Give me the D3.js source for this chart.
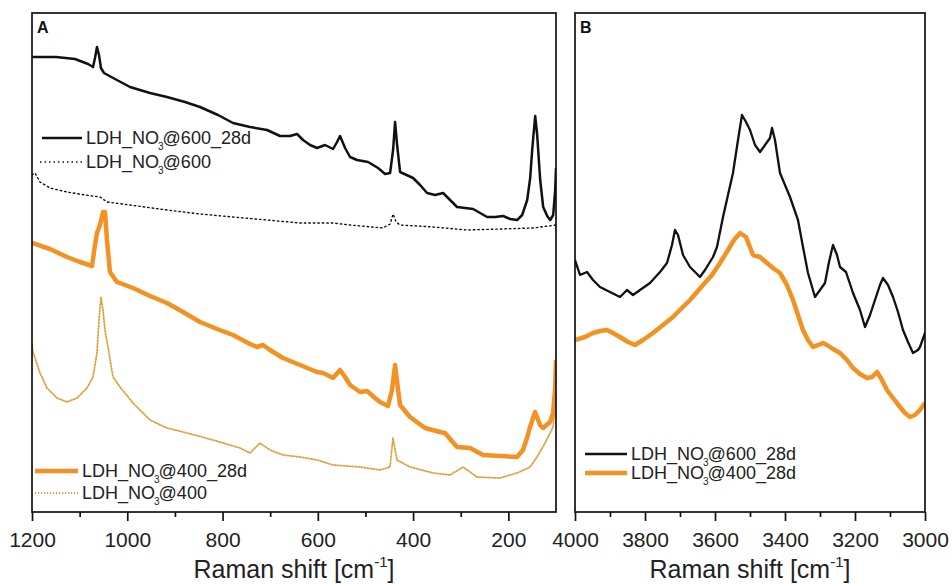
<!DOCTYPE html>
<html><head><meta charset="utf-8">
<script src="https://cdn.jsdelivr.net/npm/d3@7"></script>
<style>
html,body{margin:0;padding:0;background:#fff;}
svg{display:block;font-family:"Liberation Sans",Arial,sans-serif;}
</style></head>
<body><svg id="c" width="952" height="584"></svg>
<script>
// ---------- DATA (Raman shift in cm-1, intensity in arbitrary units) ----------
const ticksA = [1200, 1000, 800, 600, 400, 200];
const minorTicksA = [1100, 900, 700, 500, 300];
const ticksB = [4000, 3800, 3600, 3400, 3200, 3000];
const minorTicksB = [3900, 3700, 3500, 3300, 3100];

const seriesNames = ["LDH_NO3@600_28d", "LDH_NO3@600", "LDH_NO3@400_28d", "LDH_NO3@400"];

// Panel A: LDH_NO3@600_28d
const a600d_x = [1200,1172.7,1149.6,1109.7,1082.4,1071.9,1067.8,1063.6,1059.4,1055.2,1048.9,1025.8,994.3,952.3,916.6,878.8,847.3,809.5,778.0,742.3,706.6,679.3,658.3,643.6,631.0,616.3,601.6,584.8,568.0,559.6,553.3,542.8,532.3,517.6,494.5,473.5,458.8,448.3,442.0,437.8,433.6,427.3,400.0,385.3,370.6,353.8,337.0,322.3,307.6,290.8,274.0,259.3,244.6,227.8,211.0,196.3,181.5,171.0,160.5,154.2,150.0,143.7,139.5,137.4,133.2,126.9,118.5,112.2,105.9,101.7,100];
const a600d_y = [910,910,910,906,896,890,908,930,914,888,878,866,850,838,830,820,810,794,778,770,764,752,752,756,744,734,728,734,726,740,752,728,710,704,700,688,676,678,724,780,734,680,668,654,638,634,638,624,610,608,606,598,590,590,592,586,584,594,624,668,724,792,754,724,664,610,592,584,594,644,688];

// Panel A: LDH_NO3@600
const a600_x = [1200,1193.7,1183.2,1162.2,1126.5,1088.7,1057.3,1042.6,994.3,916.6,847.3,778.0,706.6,637.4,568.0,532.3,463.3,448.3,442.0,435.7,427.3,358.0,286.6,217.4,148.1,100];
const a600_y = [674,678,660,648,640,634,630,620,614,604,596,590,584,578,578,574,568,576,596,580,574,570,564,566,568,574];

// Panel A: LDH_NO3@400_28d
const a400d_x = [1200,1162.2,1126.5,1099.2,1074.0,1067.8,1063.6,1057.3,1050.9,1046.8,1042.6,1036.3,1021.6,988.0,952.3,916.6,883.0,847.3,811.6,778.0,742.4,727.7,715.1,700.4,673.1,637.4,601.7,589.1,568.0,553.3,542.8,532.3,511.4,496.7,479.9,469.5,452.7,444.3,437.8,431.5,427.3,406.5,375.0,343.5,333.0,307.8,280.5,253.2,217.6,181.8,169.3,160.8,154.5,144.0,133.4,127.2,112.5,106.2,102.0,100];
const a400d_y = [538,526,510,500,492,534,558,574,600,600,544,480,460,448,432,418,400,380,366,354,336,330,334,324,308,294,280,278,268,284,270,254,240,242,228,220,212,244,294,244,214,190,168,160,158,130,128,114,112,110,124,148,170,200,174,168,180,198,244,304];

// Panel A: LDH_NO3@400
const a400_x = [1200,1197.9,1183.2,1168.5,1147.5,1126.5,1105.5,1084.5,1072.0,1063.6,1059.4,1055.2,1051.0,1046.8,1040.5,1030.0,1015.3,988.0,952.3,916.6,874.6,820.0,763.4,742.4,721.4,700.4,673.1,637.4,601.7,568.0,511.4,469.5,448.5,442.2,433.8,406.5,358.2,322.5,295.2,265.8,217.6,181.8,154.5,139.8,123.0,106.2,100];
const a400_y = [334,320,278,248,228,220,228,248,270,318,384,430,404,364,330,270,250,218,184,168,158,144,128,118,138,124,114,110,104,94,90,84,90,148,104,90,78,74,90,70,68,78,90,110,138,170,224];

// Panel B: LDH_NO3@600_28d
const b600d_x = [4000,3985.7,3965.7,3948.6,3928.6,3900,3871.4,3851.4,3834.3,3814.3,3785.7,3757.1,3737.1,3722.9,3714.3,3705.7,3691.4,3671.4,3657.1,3642.9,3628.6,3605.7,3594.3,3577.1,3562.9,3548.6,3534.3,3522.9,3511.4,3500,3485.7,3471.4,3457.1,3442.9,3437.1,3428.6,3414.3,3400,3385.7,3362.9,3348.6,3334.3,3314.3,3300,3285.7,3274.3,3262.9,3251.4,3242.9,3225.7,3205.7,3185.7,3171.4,3157.1,3142.9,3128.6,3120,3105.7,3091.4,3077.1,3062.9,3048.6,3034.3,3020,3014.3,3000];
const b600d_y = [504,474,480,464,450,440,430,444,434,444,458,480,498,534,564,554,514,490,480,470,484,510,530,590,634,678,744,794,780,764,734,720,734,748,768,744,678,654,630,584,530,478,430,444,458,500,534,514,490,480,438,404,370,394,424,454,468,454,430,400,364,340,318,324,330,358];

// Panel B: LDH_NO3@400_28d
const b400d_x = [4000,3971.4,3948.6,3928.6,3908.6,3891.4,3871.4,3848.6,3828.6,3805.7,3777.1,3748.6,3720,3694.3,3671.4,3651.4,3634.3,3608.6,3585.7,3562.9,3545.7,3528.6,3511.4,3491.4,3471.4,3451.4,3434.3,3414.3,3394.3,3377.1,3362.9,3348.6,3334.3,3320,3305.7,3291.4,3280,3262.9,3242.9,3222.9,3205.7,3185.7,3165.7,3151.4,3137.1,3122.9,3108.6,3091.4,3071.4,3057.1,3042.9,3028.6,3014.3,3000];
const b400d_y = [344,350,358,362,364,358,350,340,334,344,358,374,390,408,424,440,454,474,498,524,544,558,550,514,510,498,488,478,454,424,394,364,344,330,334,338,334,326,318,304,288,276,268,270,280,264,244,228,210,198,190,194,204,218];

// ---------- DRAWING ----------
const svg = d3.select("#c");
const yTop = 13, yBottom = 512;
const y = d3.scaleLinear().domain([0, 998]).range([yBottom, yTop]);
const xA = d3.scaleLinear().domain([1200, 100]).range([32, 556]);
const xB = d3.scaleLinear().domain([4000, 3000]).range([575, 925]);

const BLACK = "#111";
const ORANGE = "#F39122";
const GOLD = "#DDA23E";
const FONT = "'Liberation Sans', Arial, sans-serif";

function zip(xs, ys) { return xs.map((v, i) => [v, ys[i]]); }

function panel(x, ticks, minor, label, series) {
  const [x0, x1] = x.range();
  const g = svg.append("g");
  const clipId = "clip" + label;
  svg.append("clipPath").attr("id", clipId).append("rect")
    .attr("x", x0).attr("y", yTop).attr("width", x1 - x0).attr("height", yBottom - yTop);
  const lg = g.append("g").attr("clip-path", `url(#${clipId})`);
  const line = d3.line().x(d => x(d[0])).y(d => y(d[1]));
  series.forEach(s => {
    lg.append("path").datum(s.data).attr("d", line)
      .attr("fill", "none").attr("stroke", s.color).attr("stroke-width", s.width)
      .attr("stroke-linejoin", "round").attr("stroke-linecap", s.dash ? "round" : "butt")
      .attr("stroke-dasharray", s.dash || null);
  });
  g.append("rect").attr("x", x0).attr("y", yTop).attr("width", x1 - x0).attr("height", yBottom - yTop)
    .attr("fill", "none").attr("stroke", BLACK).attr("stroke-width", 1.7);
  const ax = g.append("g").attr("transform", `translate(0,${yBottom})`)
    .call(d3.axisBottom(x).tickValues(ticks).tickFormat(d3.format("d")).tickSize(9).tickSizeOuter(0).tickPadding(11));
  ax.select(".domain").remove();
  ax.selectAll(".tick line").attr("stroke", BLACK).attr("stroke-width", 1.7);
  ax.selectAll(".tick text").attr("font-size", 21).attr("font-family", FONT).attr("fill", "#222");
  const mx = g.append("g").attr("transform", `translate(0,${yBottom})`)
    .call(d3.axisBottom(x).tickValues(minor).tickFormat("").tickSize(5).tickSizeOuter(0));
  mx.select(".domain").remove();
  mx.selectAll(".tick line").attr("stroke", BLACK).attr("stroke-width", 1.7);
  const t = g.append("text").attr("x", (x0 + x1) / 2).attr("y", 578).attr("text-anchor", "middle")
    .attr("font-size", 25).attr("font-family", FONT).attr("fill", "#222");
  t.append("tspan").text("Raman shift [cm");
  t.append("tspan").attr("font-size", 15).attr("dy", -11).text("-1");
  t.append("tspan").attr("dy", 11).text("]");
  g.append("text").attr("x", x0 + 5).attr("y", yTop + 20).attr("font-size", 16).attr("font-weight", "bold")
    .attr("font-family", FONT).attr("fill", "#111").text(label);
  return g;
}

function legendItem(g, lx0, lx1, ly, s, name) {
  g.append("line").attr("x1", lx0).attr("x2", lx1).attr("y1", ly).attr("y2", ly)
    .attr("stroke", s.color).attr("stroke-width", s.width).attr("stroke-dasharray", s.dash || null);
  const base = name.split("3");
  const t = g.append("text").attr("x", lx1 + 4).attr("y", ly + 6).attr("font-size", 18)
    .attr("font-family", FONT).attr("fill", "#222");
  t.append("tspan").text(base[0]);
  t.append("tspan").attr("font-size", 10).attr("dy", 6).attr("dx", -1).text("3");
  t.append("tspan").attr("dy", -6).attr("dx", -1).text(base[1]);
}

const sA = [
  { data: zip(a600_x, a600_y), color: BLACK, width: 1.4, dash: "1.5,3" },
  { data: zip(a400_x, a400_y), color: GOLD, width: 1.8, dash: "1.2,1.8" },
  { data: zip(a600d_x, a600d_y), color: BLACK, width: 2.5 },
  { data: zip(a400d_x, a400d_y), color: ORANGE, width: 4.5 }
];
const gA = panel(xA, ticksA, minorTicksA, "A", sA);
legendItem(gA, 42, 82, 138, sA[2], seriesNames[0]);
legendItem(gA, 40, 82, 162, sA[0], seriesNames[1]);
legendItem(gA, 35, 78, 471, sA[3], seriesNames[2]);
legendItem(gA, 35, 78, 493, sA[1], seriesNames[3]);

const sB = [
  { data: zip(b400d_x, b400d_y), color: ORANGE, width: 4.5 },
  { data: zip(b600d_x, b600d_y), color: BLACK, width: 2.3 }
];
const gB = panel(xB, ticksB, minorTicksB, "B", sB);
legendItem(gB, 585, 627, 454, sB[1], seriesNames[0]);
legendItem(gB, 585, 627, 473, sB[0], seriesNames[2]);
</script></body></html>
